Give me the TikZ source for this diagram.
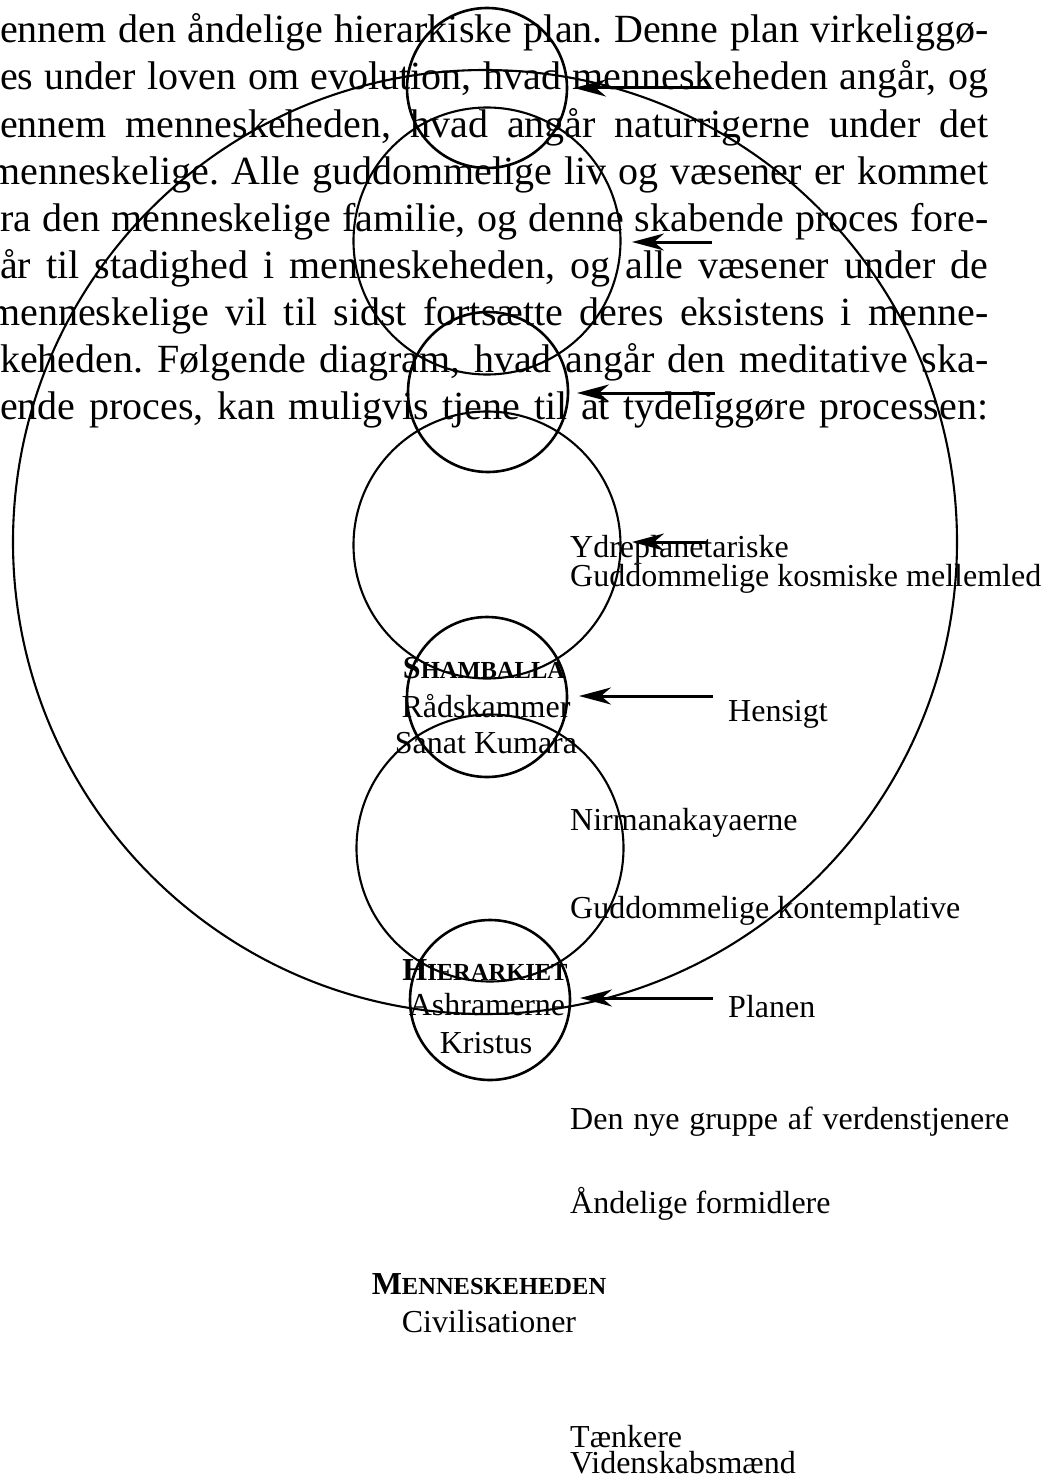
\documentclass[tikz,border=0pt]{standalone}
\usepackage{fontspec}
\setmainfont{Liberation Serif}
\usetikzlibrary{arrows.meta}
\newcommand{\fakesc}[2]{{\bfseries #1{\fontsize{24.5}{24}\selectfont #2}}}
\frenchspacing
\begin{document}
\begin{tikzpicture}[x=1pt,y=-1pt,
  para/.style={anchor=base west, inner sep=0pt, font=\fontsize{40}{47}\selectfont},
  lab/.style={anchor=base west, inner sep=0pt, font=\fontsize{32}{36}\selectfont},
  clab/.style={anchor=base, inner sep=0pt, font=\fontsize{32}{36}\selectfont},
  smallring/.style={circle, draw, line width=2.6pt, minimum size=160pt, inner sep=0pt},
  bigring/.style={circle, draw, line width=2.1pt, minimum size=267pt, inner sep=0pt},
  outerring/.style={circle, draw, line width=2.1pt, minimum size=944pt, inner sep=0pt},
  pointer/.style={line width=3pt, -{Stealth[length=32pt,width=17pt,inset=10pt]}}
]
\useasboundingbox (0,0) rectangle (1053,1477);
\fill[white] (0,0) rectangle (1053,1477);

% paragraph
\node[para] (p1) at (0,43)  {\makebox[988pt][s]{ennem den åndelige hierarkiske plan. Denne plan virkeliggø-}};
\node[para] (p2) at (0,90)  {\makebox[988pt][s]{es under loven om evolution, hvad menneskeheden angår, og}};
\node[para] (p3) at (0,137) {\makebox[988pt][s]{ennem menneskeheden, hvad angår naturrigerne under det}};
\node[para] (p4) at (-11,184) {\makebox[999pt][s]{menneskelige. Alle guddommelige liv og væsener er kommet}};
\node[para] (p5) at (0,231) {\makebox[988pt][s]{ra den menneskelige familie, og denne skabende proces fore-}};
\node[para] (p6) at (0,278) {\makebox[988pt][s]{år til stadighed i menneskeheden, og alle væsener under de}};
\node[para] (p7) at (-11,325) {\makebox[999pt][s]{menneskelige vil til sidst fortsætte deres eksistens i menne-}};
\node[para] (p8) at (0,372) {\makebox[988pt][s]{keheden. Følgende diagram, hvad angår den meditative ska-}};
\node[para] (p9) at (0,419) {\makebox[988pt][s]{ende proces, kan muligvis tjene til at tydeliggøre processen:}};

% rings
\node[outerring] (outer) at (485,542) {};
\node[smallring] (s1) at (487,88) {};
\node[bigring]   (b1) at (487,241) {};
\node[smallring] (s2) at (488,392) {};
\node[bigring]   (b2) at (487,545) {};
\node[smallring] (s3) at (487,697) {};
\node[bigring]   (b3) at (490,848) {};
\node[smallring] (s4) at (490,1000) {};

% arrows
\coordinate (a1s) at (709,88);   \coordinate (a1e) at (574,88);
\coordinate (a2s) at (712,242);  \coordinate (a2e) at (632,242);
\coordinate (a3s) at (715,393);  \coordinate (a3e) at (577,393);
\coordinate (a4s) at (706,542);  \coordinate (a4e) at (632,542);
\coordinate (a5s) at (713,696);  \coordinate (a5e) at (579,696);
\coordinate (a6s) at (713,998);  \coordinate (a6e) at (580,998);
\draw[pointer] (a1s) -- (a1e);
\draw[pointer] (a2s) -- (a2e);
\draw[pointer] (a3s) -- (a3e);
\draw[pointer] (a4s) -- (a4e);
\draw[pointer] (a5s) -- (a5e);
\draw[pointer] (a6s) -- (a6e);

% labels
\node[lab] (ydre) at (570,557) {Ydreplanetariske};
\node[lab] (kosm) at (570,586) {Guddommelige kosmiske mellemled};
\node[clab] (sham) at (484,678) {\fakesc{S}{HAMBALLA}};
\node[clab] (raad) at (486,717) {Rådskammer};
\node[clab] (sana) at (486,753) {Sanat Kumara};
\node[lab] (hens) at (728,721) {Hensigt};
\node[lab] (nirm) at (570,830) {Nirmanakayaerne};
\node[lab] (kont) at (570,918) {Guddommelige kontemplative};
\node[clab] (hier) at (485,980) {\fakesc{H}{IERARKIET}};
\node[clab] (ashr) at (487,1015) {Ashramerne};
\node[clab] (kris) at (486,1053) {Kristus};
\node[lab] (plan) at (728,1017) {Planen};
\node[lab] (verd) at (570,1129) {\makebox[439pt][s]{Den nye gruppe af verdenstjenere}};
\node[lab] (form) at (570,1213) {Åndelige formidlere};
\node[clab] (menn) at (489,1294) {\fakesc{M}{ENNESKEHEDEN}};
\node[clab] (civi) at (489,1332) {Civilisationer};
\node[lab] (taen) at (570,1447) {Tænkere};
\node[lab] (vide) at (570,1473) {Videnskabsmænd};
\end{tikzpicture}
\end{document}
